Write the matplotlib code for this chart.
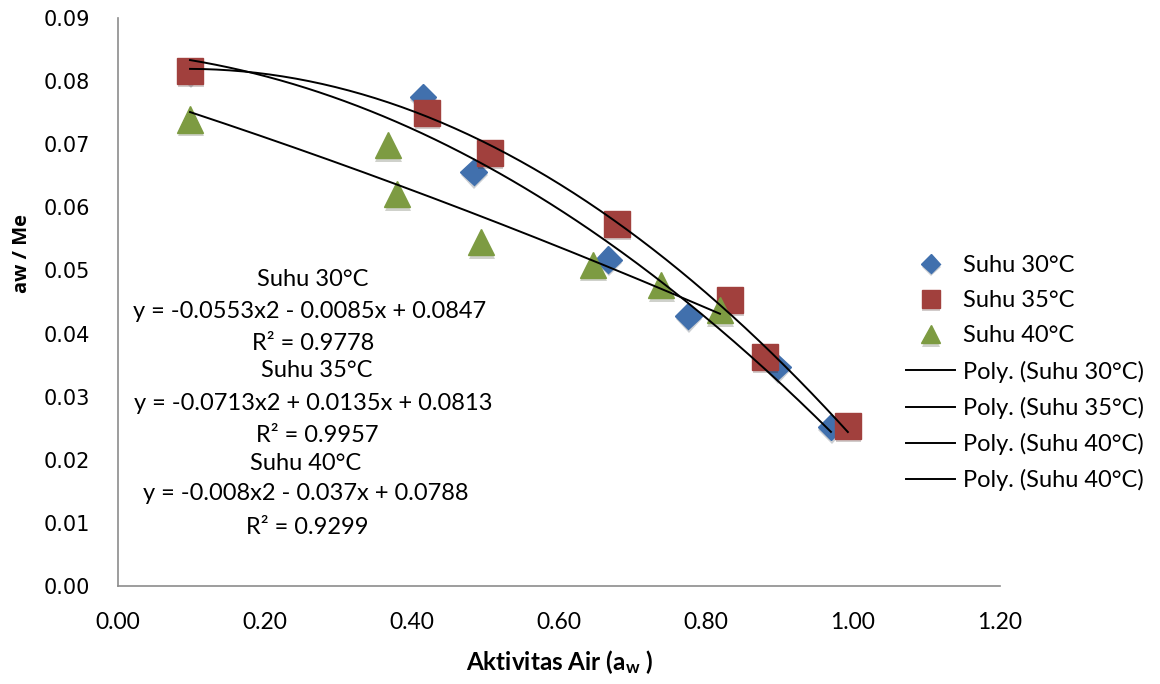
import matplotlib.pyplot as plt
import matplotlib.patheffects as pe
import numpy as np

# --- data ---
AW_30 = [0.098, 0.415, 0.484, 0.667, 0.776, 0.897, 0.970]
ME_30 = [0.0816, 0.0775, 0.0656, 0.0517, 0.0428, 0.0347, 0.0252]

AW_35 = [0.098, 0.420, 0.506, 0.679, 0.833, 0.880, 0.993]
ME_35 = [0.0816, 0.0750, 0.0686, 0.0574, 0.0453, 0.0363, 0.0254]

AW_40 = [0.098, 0.367, 0.380, 0.494, 0.646, 0.739, 0.819]
ME_40 = [0.0739, 0.0699, 0.0621, 0.0545, 0.0509, 0.0477, 0.0437]

# trendline coefficients as printed on the chart (a2, a1, a0)
POLY_30 = [-0.0553, -0.0085, 0.0847]
POLY_35 = [-0.0713, 0.0135, 0.0813]
POLY_40 = [-0.008, -0.037, 0.0788]

EQ_LINES = [
    "Suhu 30°C", "y = -0.0553x2 - 0.0085x + 0.0847", "R² = 0.9778",
    "Suhu 35°C", "y = -0.0713x2 + 0.0135x + 0.0813", "R² = 0.9957",
    "Suhu 40°C", "y = -0.008x2 - 0.037x + 0.0788", "R² = 0.9299",
]

X_TICKS = [0.0, 0.2, 0.4, 0.6, 0.8, 1.0, 1.2]
Y_TICKS = [0.00, 0.01, 0.02, 0.03, 0.04, 0.05, 0.06, 0.07, 0.08, 0.09]

W, H = 1160, 684
BLUE = '#4170ad'
RED = '#a1403d'
GREEN = '#7d9b42'

# pixel centres of the equation lines (x, y)
EQ_POS = [(313, 280), (310, 312), (313, 343),
          (317, 370), (313, 403), (317, 435),
          (306, 463), (306, 493), (307, 527)]

plt.rcParams['mathtext.fontset'] = 'custom'
plt.rcParams['mathtext.bf'] = 'Lato:bold'

fig = plt.figure(figsize=(W / 100, H / 100), dpi=100)
ax = fig.add_axes([118 / W, 1 - 586 / H, (1000 - 118) / W, (586 - 18) / H])

shadow = [pe.SimplePatchShadow(offset=(0.5, -2.5), alpha=0.22), pe.Normal()]

ax.plot(AW_30, ME_30, linestyle='none', marker='D', ms=13.5, color=BLUE,
        mec=BLUE, label='Suhu 30°C', path_effects=shadow, zorder=3)
ax.plot(AW_35, ME_35, linestyle='none', marker='s', ms=18.5, color=RED,
        mec=RED, label='Suhu 35°C', path_effects=shadow, zorder=3)
ax.plot(AW_40, ME_40, linestyle='none', marker='^', ms=19, color=GREEN,
        mec=GREEN, label='Suhu 40°C', path_effects=shadow, zorder=3)

fits = [(AW_30, POLY_30, 'Poly. (Suhu 30°C)'),
        (AW_35, POLY_35, 'Poly. (Suhu 35°C)'),
        (AW_40, POLY_40, 'Poly. (Suhu 40°C)')]
for xs, coef, lab in fits:
    xx = np.linspace(min(xs), max(xs), 200)
    ax.plot(xx, np.polyval(coef, xx), color='black', lw=1.4, label=lab,
            zorder=4)
# the legend repeats the 40°C trendline entry
ax.plot([], [], color='black', lw=1.4, label='Poly. (Suhu 40°C)')

ax.set_xlim(0, 1.2)
ax.set_ylim(0, 0.09)
ax.set_xticks(X_TICKS)
ax.set_yticks(Y_TICKS)
ax.set_xticklabels([f"{v:.2f}" for v in X_TICKS], family='Lato',
                   fontsize=16.5)
ax.set_yticklabels([f"{v:.2f}" for v in Y_TICKS], family='DejaVu Sans',
                   fontsize=15)
ax.tick_params(axis='both', length=0)
ax.tick_params(axis='x', pad=19)
ax.tick_params(axis='y', pad=20)

for side in ('top', 'right'):
    ax.spines[side].set_visible(False)
for side in ('left', 'bottom'):
    ax.spines[side].set_color('#8c8c8c')
    ax.spines[side].set_linewidth(1.2)

fig.text(560 / W, 1 - 662 / H, r"Aktivitas Air (a$\mathbf{_w}$ )",
         ha='center', va='center', fontsize=17.5, fontweight='bold',
         family='Lato')
fig.text(22 / W, 1 - 253 / H, "aw / Me", rotation=90, ha='center',
         va='center', fontsize=14.5, fontweight='bold', family='Open Sans')

for (px, py), txt in zip(EQ_POS, EQ_LINES):
    fig.text(px / W, 1 - py / H, txt, ha='center', va='center',
             fontsize=17, family='Lato')

ax.legend(loc='upper left', bbox_to_anchor=(906 / W, 1 - 255 / H),
          bbox_transform=fig.transFigure, frameon=False,
          prop={'family': 'Lato', 'size': 17}, handlelength=2.08,
          handletextpad=0.34, labelspacing=0.6, borderaxespad=0,
          borderpad=0, markerscale=0.7)

fig.savefig('out.png', dpi=100)
